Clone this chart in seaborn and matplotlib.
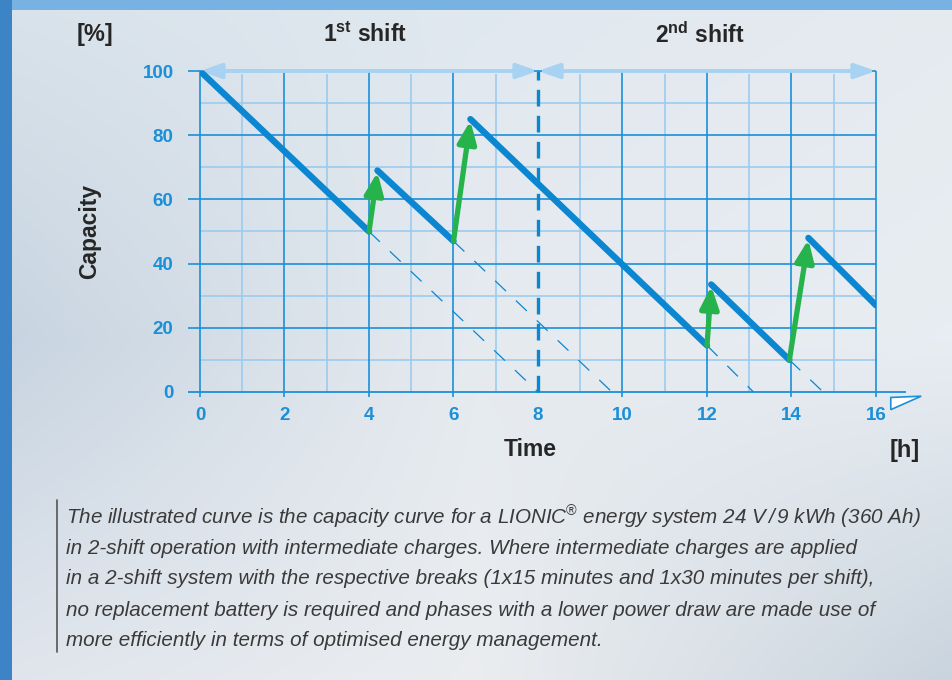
import numpy as np
import pandas as pd
import matplotlib
matplotlib.use("Agg")
import matplotlib.pyplot as plt
import seaborn as sns
from matplotlib.patches import Polygon, FancyArrowPatch

# ------------------------------------------
# Data
# ------------------------------------------
# discharge segments: start / end of each straight piece
seg_start_t = [0, 4.2, 6.4, 12.1, 14.4]
seg_start_c = [100, 69, 85, 33.5, 48]
seg_end_t = [4, 6, 12, 13.95, 16]
seg_end_c = [50, 47, 14.5, 10, 27]

# where the projected discharge (no intermediate charge) hits 0 %
empty_t = [8, 9.75, 13.1, 14.75]

x_ticks = [0, 2, 4, 6, 8, 10, 12, 14, 16]
y_ticks = [0, 20, 40, 60, 80, 100]
shift_bounds = [0, 8, 16]

caption = [
    r"The illustrated curve is the capacity curve for a LIONIC$^{\circledR}$ energy system 24 V$\,$/$\,$9 kWh (360 Ah)",
    "in 2-shift operation with intermediate charges. Where intermediate charges are applied",
    "in a 2-shift system with the respective breaks (1x15 minutes and 1x30 minutes per shift),",
    "no replacement battery is required and phases with a lower power draw are made use of",
    "more efficiently in terms of optimised energy management.",
]

BLUE = "#0b86d1"
GRID_MAJ = "#1b8fd8"
GRID_MIN = "#9ccbef"
GREEN = "#27b34b"
ARROW_LIGHT = "#a7d2f2"
DARK = "#262626"

sns.set_theme(style="white")
plt.rcParams["font.family"] = ["Liberation Sans", "DejaVu Sans"]
plt.rcParams["mathtext.fontset"] = "custom"
plt.rcParams["mathtext.rm"] = "Liberation Sans"
plt.rcParams["mathtext.it"] = "Liberation Sans:italic"
plt.rcParams["mathtext.bf"] = "Liberation Sans:bold"

fig = plt.figure(figsize=(9.53, 6.8), dpi=100)

# ------------------------------------------
# Background (blurred photo look)
# ------------------------------------------
bg = fig.add_axes([0, 0, 1, 1], zorder=-10)
H, W = 680, 953
grid_cols = np.array([
    [[0.85, 0.89, 0.92], [0.88, 0.91, 0.94], [0.90, 0.92, 0.94]],
    [[0.78, 0.83, 0.88], [0.90, 0.92, 0.94], [0.91, 0.93, 0.95]],
    [[0.88, 0.90, 0.93], [0.92, 0.93, 0.94], [0.79, 0.83, 0.87]],
])
yy = np.linspace(0, 2, H)
xx = np.linspace(0, 2, W)
img = np.zeros((H, W, 3))
for ch in range(3):
    rows = np.array([np.interp(xx, [0, 1, 2], grid_cols[r, :, ch]) for r in range(3)])
    for j in range(W):
        img[:, j, ch] = np.interp(yy, [0, 1, 2], rows[:, j])
img[:10, :, :] = [0.47, 0.70, 0.89]
img[:, :12, :] = [0.24, 0.52, 0.78]
bg.imshow(img, aspect="auto", extent=[0, 1, 0, 1])
bg.set_axis_off()

# ------------------------------------------
# Main axes: data 0..16 h, 0..100 %
# ------------------------------------------
ax = fig.add_axes([200 / 953, 1 - 392 / 680, 676 / 953, 321 / 680])
ax.set_xlim(0, 16)
ax.set_ylim(0, 100)
ax.patch.set_alpha(0)
for sp in ax.spines.values():
    sp.set_visible(False)

# grid
ax.vlines(np.arange(1, 16, 2), 0, 99, color=GRID_MIN, lw=1.2, zorder=1)
ax.hlines(np.arange(10, 100, 20), 0, 16, color=GRID_MIN, lw=1.2, zorder=1)
ax.vlines([t for t in x_ticks if t != 8], -1.6, 100, color=GRID_MAJ, lw=1.2,
          zorder=2, clip_on=False)
ax.hlines(y_ticks[1:], -0.28, 16, color=GRID_MAJ, lw=1.2, zorder=2, clip_on=False)
ax.hlines(0, -0.28, 16.7, color=GRID_MAJ, lw=1.3, zorder=2, clip_on=False)
ax.add_patch(Polygon([[16.35, -1.7], [17.07, -1.3], [16.35, -5.5]], closed=True,
                     facecolor="white", edgecolor=GRID_MAJ, lw=1.2, clip_on=False,
                     zorder=3))

# shift separator
ax.vlines(8, 0, 100, color=BLUE, lw=2.4, linestyles=(0, (5, 2.8)), zorder=3,
          clip_on=False)

# shift arrows along the top
for a, b in zip(shift_bounds[:-1], shift_bounds[1:]):
    arr = FancyArrowPatch((a, 100), (b, 100),
                          arrowstyle="<|-|>,head_length=0.8,head_width=0.28",
                          mutation_scale=16, color=ARROW_LIGHT, lw=2.8,
                          shrinkA=0, shrinkB=0, clip_on=False, zorder=4)
    ax.add_patch(arr)

# projected discharge without charging (thin dashed)
for t0, c0, t1 in zip(seg_end_t[:-1], seg_end_c[:-1], empty_t):
    ax.plot([t0, t1], [c0, 0], color=BLUE, lw=0.9, ls=(0, (12, 11)), zorder=3)

# capacity curve
df = pd.DataFrame({
    "seg": list(range(len(seg_start_t))) * 2,
    "time": seg_start_t + seg_end_t,
    "cap": seg_start_c + seg_end_c,
})
sns.lineplot(data=df, x="time", y="cap", units="seg", estimator=None, sort=False,
             color=BLUE, lw=4.6, solid_capstyle="round", ax=ax, zorder=5,
             legend=False)

# intermediate charges
for t0, c0, t1, c1 in zip(seg_end_t[:-1], seg_end_c[:-1], seg_start_t[1:], seg_start_c[1:]):
    ax.annotate("", xy=(t1, c1 - 0.5), xytext=(t0, c0),
                arrowprops=dict(arrowstyle="-|>,head_length=0.95,head_width=0.4",
                                mutation_scale=14, color=GREEN, lw=3.8,
                                shrinkA=0, shrinkB=0),
                zorder=6)

# ticks
ax.set_xticks(x_ticks)
ax.set_yticks(y_ticks)
ax.tick_params(length=0, labelcolor=GRID_MAJ, labelsize=13.5)
ax.tick_params(axis="x", pad=11)
ax.tick_params(axis="y", pad=19)
for lab in ax.get_xticklabels() + ax.get_yticklabels():
    lab.set_fontweight("bold")
ax.set_xlabel("")
ax.set_ylabel("")

# titles / labels
fs = 16.5
fig.text(95 / 953, 1 - 35 / 680, "[%]", ha="center", va="center", fontsize=17,
         fontweight="bold", color=DARK)
fig.text(365 / 953, 1 - 35 / 680, r"1$^{\mathbf{st}}$ shift", ha="center", va="center",
         fontsize=fs, fontweight="bold", color=DARK)
fig.text(700 / 953, 1 - 35 / 680, r"2$^{\mathbf{nd}}$ shift", ha="center", va="center",
         fontsize=fs, fontweight="bold", color=DARK)
fig.text(90 / 953, 1 - 231 / 680, "Capacity", ha="center", va="center", rotation=90,
         fontsize=fs, fontweight="bold", color=DARK)
fig.text(530 / 953, 1 - 450 / 680, "Time", ha="center", va="center", fontsize=fs,
         fontweight="bold", color=DARK)
fig.text(905 / 953, 1 - 450 / 680, "[h]", ha="center", va="center", fontsize=17,
         fontweight="bold", color=DARK)

# caption with left rule
fig.add_artist(plt.Line2D([57 / 953, 57 / 953], [1 - 500 / 680, 1 - 652 / 680],
                          color="#555555", lw=1.2))
for i, line in enumerate(caption):
    fig.text(66 / 953, 1 - (517 + 31 * i) / 680, line, ha="left", va="center",
             fontsize=14.85, fontstyle="italic", color="#3a3a3a")

fig.savefig("out.png", dpi=100)
